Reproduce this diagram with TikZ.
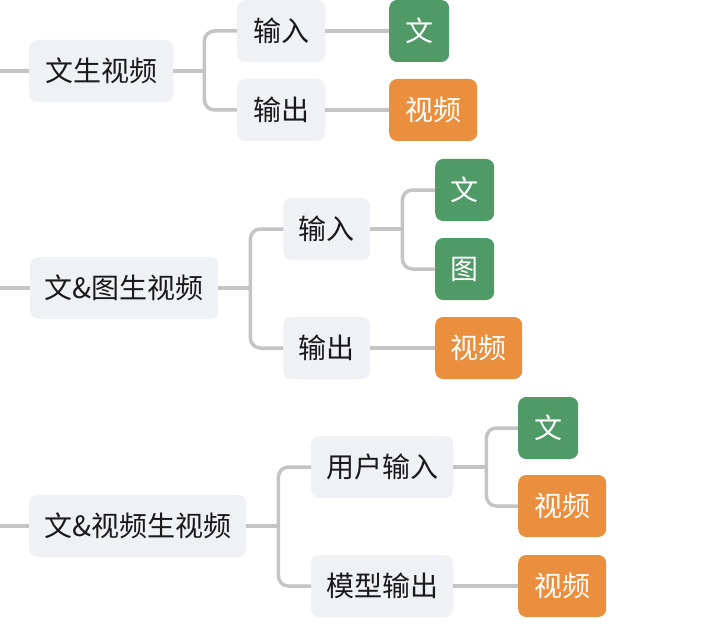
\documentclass[tikz,border=0pt]{standalone}
\usepackage{fontspec}
\setmainfont{Noto Sans CJK SC}
\definecolor{boxgray}{HTML}{F0F1F4}
\definecolor{leafgreen}{HTML}{4F9A66}
\definecolor{leaforange}{HTML}{E98F3E}
\definecolor{linegray}{HTML}{C4C4C4}
\definecolor{textdark}{HTML}{1A1A1A}
\tikzset{
  base/.style={anchor=west, rounded corners=8pt, minimum height=62pt, inner xsep=0pt, inner ysep=0pt, font=\fontsize{28}{28}\selectfont},
  graybox/.style={base, fill=boxgray, text=textdark},
  greenbox/.style={base, fill=leafgreen, text=white, minimum width=60pt},
  orangebox/.style={base, fill=leaforange, text=white, minimum width=88pt},
  conn/.style={draw=linegray, line width=3.5pt},
  branch/.style={conn, rounded corners=10pt}
}
\begin{document}
\begin{tikzpicture}[x=1pt,y=-1pt]
\useasboundingbox (0,0) rectangle (716,626);
% section 1
\node[graybox, minimum width=144pt] (r1) at (29,71) {文生视频};
\node[graybox, minimum width=88pt] (a1) at (237,31) {输入};
\node[graybox, minimum width=88pt] (b1) at (237,110) {输出};
\node[greenbox] (a1x) at (389,31) {文};
\node[orangebox] (b1x) at (389,110) {视频};
% section 2
\node[graybox, minimum width=188pt] (r2) at (30,288) {文\&图生视频};
\node[graybox, minimum width=87pt] (a2) at (283,229) {输入};
\node[graybox, minimum width=87pt] (b2) at (283,348) {输出};
\node[greenbox, minimum width=59pt] (a2x) at (435,190) {文};
\node[greenbox, minimum width=59pt] (a2y) at (435,269) {图};
\node[orangebox, minimum width=87pt] (b2x) at (435,348) {视频};
% section 3
\node[graybox, minimum width=217pt] (r3) at (29,526) {文\&视频生视频};
\node[graybox, minimum width=142pt] (a3) at (311,467) {用户输入};
\node[graybox, minimum width=142pt] (b3) at (311,586) {模型输出};
\node[greenbox] (a3x) at (518,428) {文};
\node[orangebox] (a3y) at (518,506) {视频};
\node[orangebox] (b3x) at (518,586) {视频};
% free ends on the left
\coordinate (s1) at (0,71);
\coordinate (s2) at (0,288);
\coordinate (s3) at (0,526);
\draw[conn] (s1) -- (r1.west);
\draw[conn] (s2) -- (r2.west);
\draw[conn] (s3) -- (r3.west);
% section 1 connectors
\draw[conn] (r1.east) -- ++(31,0) coordinate (j1);
\draw[branch] (j1) |- (a1.west);
\draw[branch] (j1) |- (b1.west);
\draw[conn] (a1.east) -- (a1x.west);
\draw[conn] (b1.east) -- (b1x.west);
% section 2 connectors
\draw[conn] (r2.east) -- ++(32,0) coordinate (j2);
\draw[branch] (j2) |- (a2.west);
\draw[branch] (j2) |- (b2.west);
\draw[conn] (a2.east) -- ++(32,0) coordinate (j2a);
\draw[branch] (j2a) |- (a2x.west);
\draw[branch] (j2a) |- (a2y.west);
\draw[conn] (b2.east) -- (b2x.west);
% section 3 connectors
\draw[conn] (r3.east) -- ++(32,0) coordinate (j3);
\draw[branch] (j3) |- (a3.west);
\draw[branch] (j3) |- (b3.west);
\draw[conn] (a3.east) -- ++(33,0) coordinate (j3a);
\draw[branch] (j3a) |- (a3x.west);
\draw[branch] (j3a) |- (a3y.west);
\draw[conn] (b3.east) -- (b3x.west);
\end{tikzpicture}
\end{document}
